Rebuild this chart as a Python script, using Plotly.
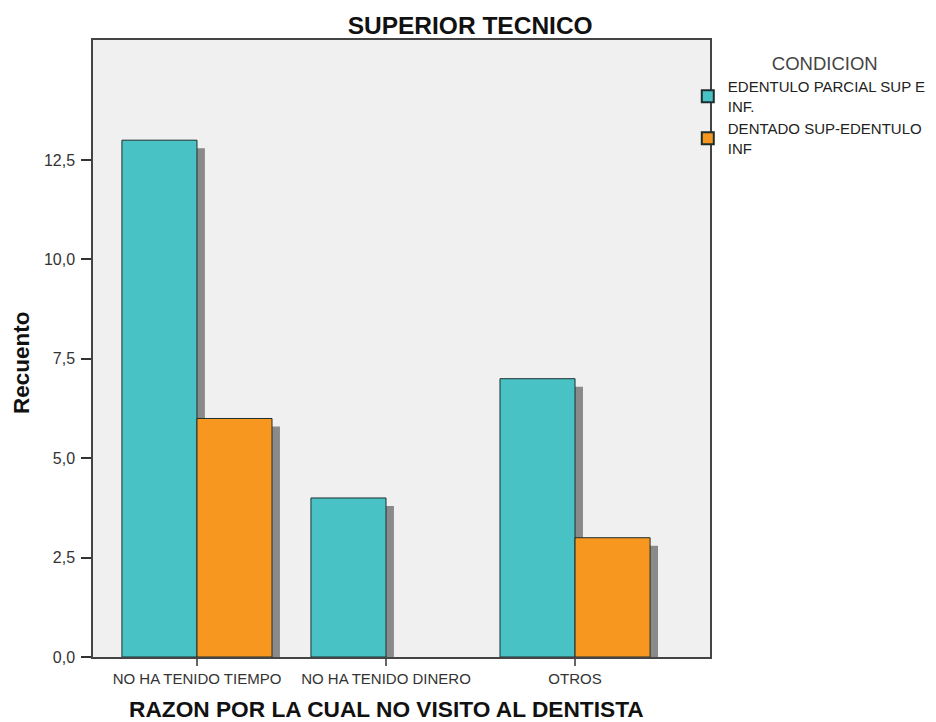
import plotly.graph_objects as go

categories = ["NO HA TENIDO TIEMPO", "NO HA TENIDO DINERO", "OTROS"]
series_names = ["EDENTULO PARCIAL SUP E<br>INF.", "DENTADO SUP-EDENTULO<br>INF"]
edentulo_parcial = [13, 4, 7]
dentado_sup = [6, None, 3]
y_ticks = [0, 2.5, 5, 7.5, 10, 12.5]

colors = ["#49C2C6", "#F7971F"]
shadow_color = "#8A8A8A"
bar_w = 0.397
dx = 0.042   # shadow shift in category units
dy = 0.2     # shadow drop in value units

fig = go.Figure()
series = [edentulo_parcial, dentado_sup]
offsets = [-bar_w, 0.0]

# shadows first (behind bars)
for vals, off in zip(series, offsets):
    fig.add_trace(go.Bar(
        x=categories, y=vals, base=[-dy] * len(vals),
        width=bar_w, offset=off + dx,
        marker=dict(color=shadow_color, line=dict(width=0)),
        showlegend=False, hoverinfo="skip", cliponaxis=False,
    ))

for vals, off, name, col in zip(series, offsets, series_names, colors):
    fig.add_trace(go.Bar(
        x=categories, y=vals, name=name,
        width=bar_w, offset=off,
        marker=dict(color=col, line=dict(color="#1E2E2E", width=1)),
        cliponaxis=False,
    ))

font_fam = "Liberation Sans, Arial, sans-serif"
pad = "&nbsp;" * 6
# page body has an 8px margin; the figure is offset by it
fig.update_layout(
    width=928, height=714,
    barmode="overlay",
    separators=",.",
    paper_bgcolor="white",
    plot_bgcolor="#F0F0F0",
    margin=dict(l=85, r=226, t=32, b=65, pad=0, autoexpand=False),
    font=dict(family=font_fam, color="#222"),
    title=dict(text="<b>SUPERIOR TECNICO</b>", x=0.498, xref="container",
               y=0.9755, yref="container", yanchor="middle",
               font=dict(size=24.5, color="#111", family=font_fam)),
    legend=dict(
        x=0.964, xanchor="left", y=0.990, yanchor="top",
        bgcolor="rgba(0,0,0,0)",
        title=dict(text=pad + "CONDICION", side="top center",
                   font=dict(size=18.5, color="#444")),
        font=dict(size=15, color="#222"),
        tracegroupgap=0,
        itemsizing="constant",
    ),
    xaxis=dict(
        type="category", range=[-0.55, 2.714], automargin=False,
        showline=True, linecolor="#444", linewidth=1.5, mirror=True,
        ticks="outside", ticklen=7, tickcolor="#666", tickwidth=1.5,
        tickfont=dict(size=15, color="#333"),
        showgrid=False, zeroline=False,
    ),
    yaxis=dict(
        range=[0, 15.52], tickvals=y_ticks, tickformat=".1f", automargin=False,
        showline=True, linecolor="#444", linewidth=1.5, mirror=True,
        ticks="outside", ticklen=10, tickcolor="#333", tickwidth=1.5,
        ticklabelstandoff=3,
        tickfont=dict(size=16, color="#333"),
        showgrid=False, zeroline=False,
    ),
    annotations=[
        dict(text="<b>RAZON POR LA CUAL NO VISITO AL DENTISTA</b>",
             xref="paper", yref="paper", x=0.475, y=-0.0835,
             xanchor="center", yanchor="middle", showarrow=False,
             font=dict(size=22.7, color="#111")),
        dict(text="<b>Recuento</b>", textangle=-90,
             xref="paper", yref="paper", x=-0.115, y=0.4765,
             xanchor="center", yanchor="middle", showarrow=False,
             font=dict(size=22.5, color="#111")),
    ],
)

fig.write_html("out.html")
